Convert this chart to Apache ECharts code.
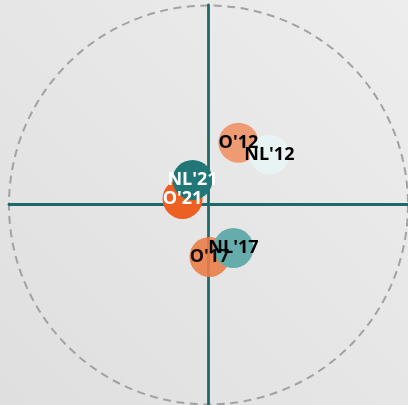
<!DOCTYPE html>
<html>
<head>
<meta charset="utf-8">
<script src="https://cdn.jsdelivr.net/npm/echarts@6/dist/echarts.min.js"></script>
<style>
html,body{margin:0;padding:0;width:408px;height:405px;overflow:hidden;}
#c{width:408px;height:405px;}
</style>
</head>
<body>
<div id="c"></div>
<script>
var labels = ["O'12", "NL'12", "O'21", "NL'21", "O'17", "NL'17"];
var xValues = [0.15, 0.305, -0.13, -0.08, 0.005, 0.125];
var yValues = [0.31, 0.25, 0.028, 0.123, -0.263, -0.218];
var pointColors = ['#ee9b73', '#e8f3f3', '#ec6023', '#217777', '#eb7d48', '#66acad'];
var labelColors = ['#000', '#000', '#fff', '#fff', '#000', '#000'];

var data = labels.map(function (n, i) {
  return {
    name: n,
    value: [xValues[i], yValues[i]],
    itemStyle: { color: pointColors[i], opacity: i === 4 ? 0.9 : 1 },
    label: { color: labelColors[i] }
  };
});

var chart = echarts.init(document.getElementById('c'));
chart.setOption({
  backgroundColor: {
    type: 'linear', x: 1, y: 0, x2: 0, y2: 1,
    colorStops: [{ offset: 0, color: '#ededed' }, { offset: 1, color: '#dfdfdf' }]
  },
  animation: false,
  polar: { center: [208.5, 205], radius: 199.5 },
  angleAxis: {
    type: 'value', min: 0, max: 360,
    axisLine: { show: true, lineStyle: { color: '#a2a2a2', width: 2, type: [8, 5.5] } },
    axisTick: { show: false }, axisLabel: { show: false }, splitLine: { show: false }
  },
  radiusAxis: {
    type: 'value', min: 0, max: 1, show: false
  },
  grid: { left: 9, top: 5, width: 399, height: 399 },
  xAxis: {
    type: 'value', min: -1, max: 1,
    axisLine: { onZero: true, lineStyle: { color: '#1e6a6a', width: 2.8 } },
    axisTick: { show: false }, axisLabel: { show: false }, splitLine: { show: false }
  },
  yAxis: {
    type: 'value', min: -1, max: 1,
    axisLine: { onZero: true, lineStyle: { color: '#1e6a6a', width: 2.8 } },
    axisTick: { show: false }, axisLabel: { show: false }, splitLine: { show: false }
  },
  series: [{
    type: 'scatter',
    symbolSize: 40,
    z: 3,
    data: data,
    label: {
      show: true,
      position: 'inside',
      formatter: '{b}',
      fontFamily: 'Open Sans',
      fontWeight: 700,
      fontSize: 18
    }
  }]
});
</script>
</body>
</html>
